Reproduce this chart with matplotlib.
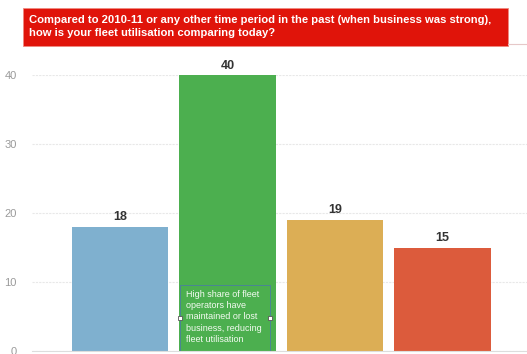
import matplotlib.pyplot as plt
from matplotlib.patches import Rectangle
from matplotlib.lines import Line2D

# ------------------ DATA ------------------

categories = ["Improved", "Maintained", "Declined", "Sharply declined"]
values = [18, 40, 19, 15]
bar_colors = ["#7fb0cf", "#4caf4f", "#dcae55", "#dc5b3c"]
yticks = [0, 10, 20, 30, 40]
title = ("Compared to 2010-11 or any other time period in the past (when business was strong),\n"
         "how is your fleet utilisation comparing today?")
note = "High share of fleet\noperators have\nmaintained or lost\nbusiness, reducing\nfleet utilisation"

# ------------------ PLOT ------------------

W, H = 527, 354
fig = plt.figure(figsize=(W / 100, H / 100), dpi=100)
plt.rcParams["font.family"] = ["Liberation Sans", "DejaVu Sans"]

ax = fig.add_axes([32 / W, 3 / H, 1 - 32 / W, 276 / H])
x = list(range(len(values)))
bars = ax.bar(x, values, width=0.9, color=bar_colors, edgecolor="none", zorder=2)

ax.set_ylim(0, 40)
ax.set_xlim(-0.819, 3.786)
ax.set_yticks(yticks)
ax.set_xticks([])
ax.tick_params(axis="y", length=0, labelsize=8, labelcolor="#9a9a9a", pad=11)
ax.grid(axis="y", color="#e8e8e8", linewidth=0.8, linestyle=(0, (2, 1)), zorder=0)
for s in ["top", "right", "left"]:
    ax.spines[s].set_visible(False)
ax.spines["bottom"].set_color("#dddddd")

for b, v in zip(bars, values):
    ax.text(b.get_x() + b.get_width() / 2, v + 0.5, str(v), ha="center", va="bottom",
            fontsize=9, fontweight="bold", color="#333333", clip_on=False)

# annotation box inside the tall bar
bx = bars[1].get_x()
bw = bars[1].get_width()
ax.add_patch(Rectangle((bx + 0.01, 0), bw * 0.93, 9.6, fill=False,
                       edgecolor="#4a7fa0", linewidth=0.6, zorder=3))
ax.text(bx + 0.06, 8.8, note, ha="left", va="top", fontsize=6.5,
        color="#f4fbf2", linespacing=1.3, zorder=4)
for px in [bx + 0.01, bx + 0.01 + bw * 0.93]:
    ax.plot(px, 4.8, marker="s", markersize=3.5, markerfacecolor="white",
            markeredgecolor="#555555", markeredgewidth=0.6, zorder=5, clip_on=False)

# title banner
fig.patches.append(Rectangle((23 / W, 1 - 46 / H), 485 / W, 38 / H,
                             transform=fig.transFigure, facecolor="#e0140a",
                             edgecolor="#f08a80", linewidth=0.6))
fig.lines.append(Line2D([508 / W, 1], [1 - 44 / H, 1 - 44 / H],
                        transform=fig.transFigure, color="#e6c8c8", linewidth=0.8))
fig.text(29 / W, 1 - 26.5 / H, title, ha="left", va="center", fontsize=8.1,
         fontweight="bold", color="white", linespacing=1.3)

fig.savefig("out.png", dpi=100)
